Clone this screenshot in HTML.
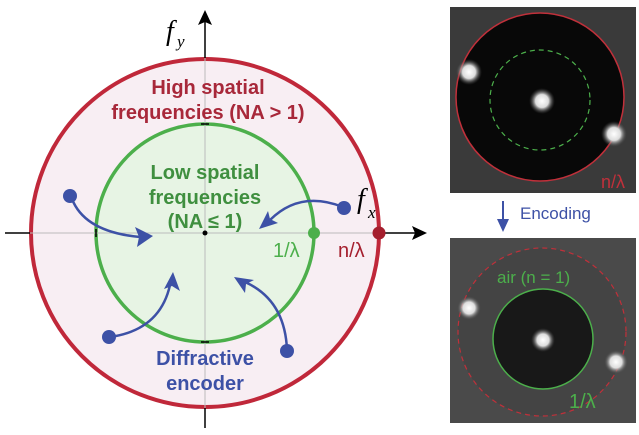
<!DOCTYPE html>
<html><head><style>
html,body{margin:0;padding:0;background:#fff;}
svg{display:block;font-family:"Liberation Sans",sans-serif;}
</style></head><body>
<svg width="639" height="435" viewBox="0 0 639 435">
<defs>
<radialGradient id="sp1"><stop offset="0" stop-color="#fff"/><stop offset="0.5" stop-color="#ddd"/><stop offset="1" stop-color="#444" stop-opacity="0"/></radialGradient>
</defs>
<circle cx="205" cy="233" r="174" fill="#f8eef3" stroke="#c0283a" stroke-width="4"/>
<circle cx="205" cy="233" r="109" fill="#e7f4e4" stroke="#4caf4b" stroke-width="3.5"/>
<line x1="205" y1="58" x2="205" y2="408" stroke="#bbb" stroke-width="1"/>
<line x1="30" y1="233" x2="380" y2="233" stroke="#bbb" stroke-width="1"/>
<line x1="5" y1="233" x2="30" y2="233" stroke="#000" stroke-width="1.5"/>
<line x1="380" y1="233" x2="415" y2="233" stroke="#000" stroke-width="1.5"/>
<path d="M427,233 L412,226 L415,233 L412,240 z" fill="#000"/>
<line x1="205" y1="408" x2="205" y2="428" stroke="#000" stroke-width="1.5"/>
<line x1="205" y1="20" x2="205" y2="58" stroke="#000" stroke-width="1.5"/>
<path d="M205,10 L198,25 L205,22 L212,25 z" fill="#000"/>
<line x1="201" y1="124" x2="209" y2="124" stroke="#000" stroke-width="1.5"/>
<line x1="201" y1="342" x2="209" y2="342" stroke="#000" stroke-width="1.5"/>
<line x1="96" y1="229" x2="96" y2="237" stroke="#000" stroke-width="1.5"/>
<circle cx="205" cy="233" r="2.5" fill="#000"/>
<circle cx="314" cy="233" r="6" fill="#4caf4b"/>
<circle cx="379" cy="233" r="6.5" fill="#a51f2e"/>
<g font-weight="bold" font-size="20" text-anchor="middle">
<text x="208" y="94" fill="#a8283a">High spatial</text>
<text x="208" y="119" fill="#a8283a">frequencies (NA &gt; 1)</text>
<text x="205" y="179" fill="#3f8f3f">Low spatial</text>
<text x="205" y="204" fill="#3f8f3f">frequencies</text>
<text x="205" y="228" fill="#3f8f3f">(NA ≤ 1)</text>
<text x="205" y="365" fill="#3d51a6">Diffractive</text>
<text x="205" y="390" fill="#3d51a6">encoder</text>
</g>
<text x="166" y="40" font-family="Liberation Serif,serif" font-style="italic" font-size="28">f</text>
<text x="177" y="47" font-family="Liberation Serif,serif" font-style="italic" font-size="17">y</text>
<text x="357" y="208" font-family="Liberation Serif,serif" font-style="italic" font-size="28">f</text>
<text x="368" y="218" font-family="Liberation Serif,serif" font-style="italic" font-size="17">x</text>
<text x="273" y="257" font-size="20" fill="#4caf4b">1/λ</text>
<text x="338" y="257" font-size="20" fill="#a51f2e">n/λ</text>
<g fill="none" stroke="#3d51a6" stroke-width="2.5">
<path d="M72,199 Q85,232 140,237"/>
<path d="M110,337 Q160,330 170,285"/>
<path d="M287,350 Q285,300 245,282"/>
<path d="M343,207 Q300,190 270,220"/>
</g>
<g fill="#3d51a6">
<path d="M153,236 L135,227 L139,237 L137,247 z"/>
<path d="M173,272 L164,289 L172,286 L180,291 z"/>
<path d="M234,277 L245,293 L246,284 L254,280 z"/>
<path d="M259,229 L278,223 L270,219 L268,211 z"/>
<circle cx="70" cy="196" r="7"/>
<circle cx="109" cy="337" r="7"/>
<circle cx="287" cy="351" r="7"/>
<circle cx="344" cy="208" r="7"/>
</g>
<!-- top panel -->
<rect x="450" y="7" width="186" height="186" fill="#3a3a3a"/>
<circle cx="540" cy="97" r="84" fill="#080808" stroke="#c0303a" stroke-width="1.5"/>
<circle cx="540" cy="100" r="50" fill="none" stroke="#4caf4b" stroke-width="1.2" stroke-dasharray="5,4"/>
<circle cx="542" cy="101" r="13" fill="url(#sp1)"/>
<circle cx="469" cy="72" r="13" fill="url(#sp1)"/>
<circle cx="614" cy="134" r="13" fill="url(#sp1)"/>
<text x="601" y="188" font-size="18" fill="#c0303a">n/λ</text>
<line x1="503" y1="201" x2="503" y2="222" stroke="#3d51a6" stroke-width="2"/>
<path d="M503,232 L497,219 L509,219 z" fill="#3d51a6"/>
<text x="520" y="219" font-size="17" fill="#3d51a6">Encoding</text>
<!-- bottom panel -->
<rect x="450" y="238" width="186" height="185" fill="#4a4a4a"/>
<circle cx="542" cy="332" r="84" fill="#444" stroke="#c0303a" stroke-width="1.2" stroke-dasharray="5,4"/>
<circle cx="543" cy="339" r="50" fill="#181818" stroke="#4caf4b" stroke-width="1.5"/>
<circle cx="543" cy="340" r="12" fill="url(#sp1)"/>
<circle cx="469" cy="308" r="12" fill="url(#sp1)"/>
<circle cx="616" cy="362" r="12" fill="url(#sp1)"/>
<text x="497" y="283" font-size="17" fill="#4caf4b">air (n = 1)</text>
<text x="569" y="408" font-size="20" fill="#4caf4b">1/λ</text>
</svg>
</body></html>
